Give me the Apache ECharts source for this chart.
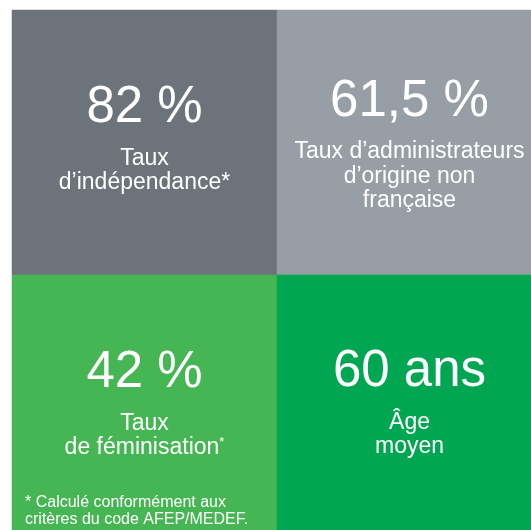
<!DOCTYPE html>
<html>
<head>
<meta charset="utf-8">
<script src="https://cdn.jsdelivr.net/npm/echarts@6/dist/echarts.min.js"></script>
<style>
  html, body { margin: 0; padding: 0; background: #fff; }
  #chart { width: 531px; height: 530px; }
</style>
</head>
<body>
<div id="chart"></div>
<script>
// columns / rows of the 2x2 board
const columns = ['gauche', 'droite'];
const rows = ['haut', 'bas'];

// one tile per key figure
const tileCol = [0, 1, 0, 1];
const tileRow = [0, 0, 1, 1];
const figures = ['82 %', '61,5 %', '42 %', '60 ans'];
const captions = [
  ['Taux', 'd’indépendance*'],
  ['Taux d’administrateurs', 'd’origine non', 'française'],
  ['Taux', 'de féminisation'],
  ['Âge', 'moyen'],
];
const captionMarks = ['', '', '*', ''];
const tileColors = ['#6c737b', '#989ea5', '#46b553', '#00a651'];
const labelShift = [[0, -10], [0, -4], [0, -10], [0, -11]];

const footnote = '* Calculé conformément aux\ncritères du code AFEP/MEDEF.';

const chart = echarts.init(document.getElementById('chart'));

const data = figures.map((f, i) => ({
  value: [tileCol[i], tileRow[i], i],
  itemStyle: { color: tileColors[i] },
  label: { offset: labelShift[i] },
}));

const font = '"Liberation Sans", Arial, sans-serif';

chart.setOption({
  animation: false,
  grid: { left: 12, top: 10, width: 530, height: 530, outerBoundsMode: 'none' },
  xAxis: {
    type: 'category',
    data: columns,
    show: false,
  },
  yAxis: {
    type: 'category',
    data: rows,
    inverse: true,
    show: false,
  },
  series: [
    {
      type: 'heatmap',
      data: data,
      emphasis: { disabled: true },
      label: {
        show: true,
        color: '#fff',
        fontFamily: font,
        formatter: (p) => {
          const i = p.data.value[2];
          const lines = captions[i].map((t, k) => {
            const last = k === captions[i].length - 1;
            return `{txt|${t}}` + (last && captionMarks[i] ? `{sup|${captionMarks[i]}}` : '');
          });
          return [`{big|${figures[i]}}`].concat(lines).join('\n');
        },
        rich: {
          big: { fontSize: 51, lineHeight: 76, color: '#fff', fontFamily: font },
          txt: { fontSize: 23, lineHeight: 24.5, color: '#fff', fontFamily: font },
          sup: { fontSize: 13, lineHeight: 24.5, verticalAlign: 'top', color: '#fff', fontFamily: font },
        },
      },
    },
  ],
  graphic: [
    {
      type: 'text',
      left: 25,
      top: 494,
      z: 100,
      style: {
        text: footnote,
        fill: '#fff',
        font: '16px ' + font,
        lineHeight: 17,
      },
    },
  ],
});
</script>
</body>
</html>
